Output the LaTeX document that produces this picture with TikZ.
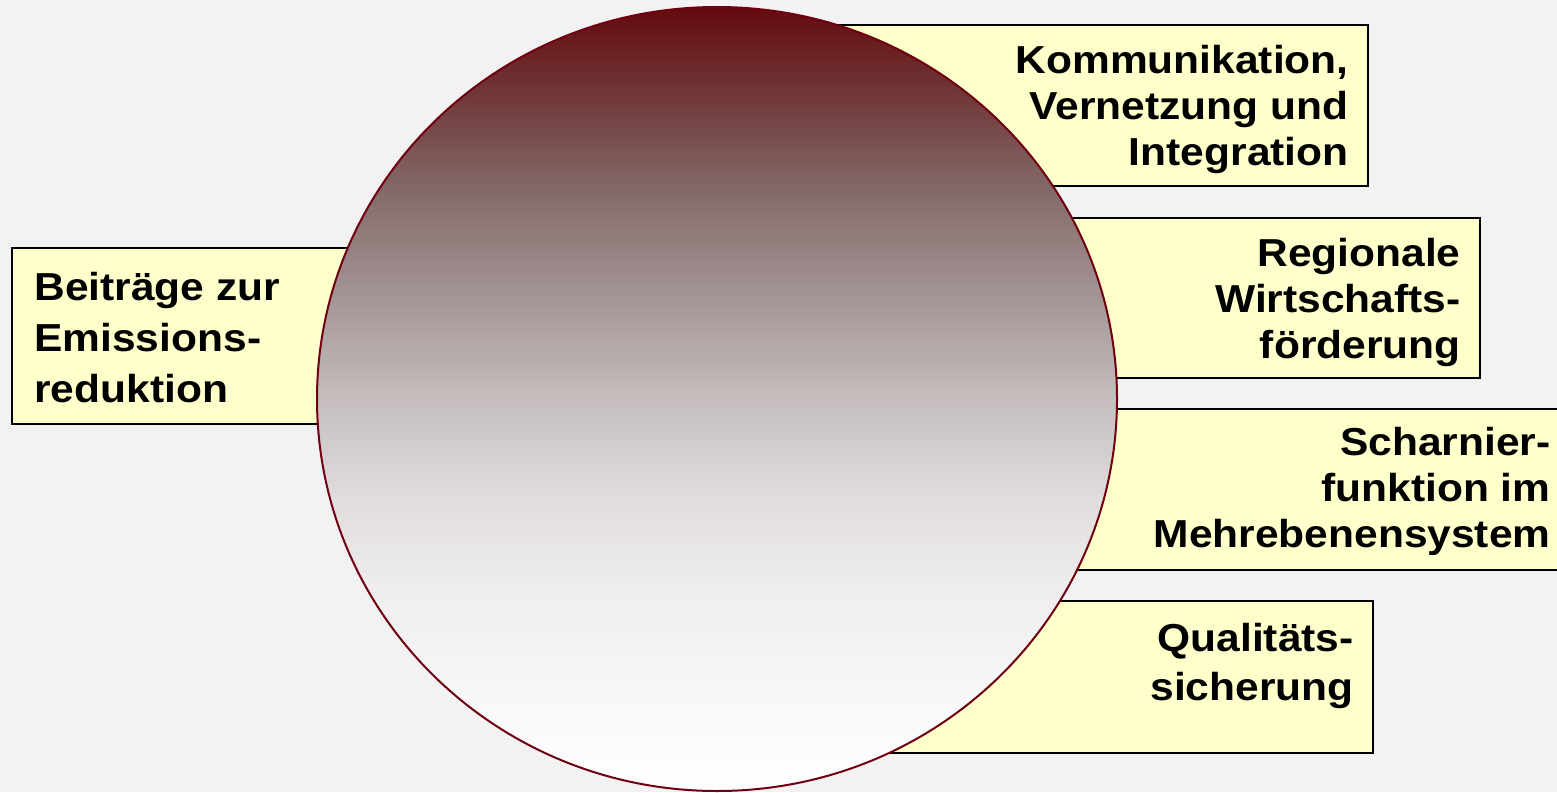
\documentclass[tikz,border=0pt]{standalone}
\usepackage{fontspec}
\setmainfont{Liberation Sans}[FakeStretch=1.09]
\usetikzlibrary{shapes.geometric}
\definecolor{bggray}{RGB}{242,242,242}
\definecolor{paleyellow}{RGB}{255,255,204}
\definecolor{darkwine}{RGB}{112,0,16}
\definecolor{shA}{RGB}{100,10,15}
\definecolor{shB}{RGB}{113,58,58}
\definecolor{shC}{RGB}{135,110,110}
\definecolor{shD}{RGB}{165,150,150}
\definecolor{shE}{RGB}{198,190,190}
\definecolor{shF}{RGB}{225,221,221}
\definecolor{shG}{RGB}{240,238,238}
\definecolor{shH}{RGB}{248,248,248}
\pgfdeclareverticalshading{wineshade}{100bp}{color(0bp)=(white); color(25bp)=(white);
 color(30.8bp)=(shH); color(37.2bp)=(shG); color(43.6bp)=(shF); color(49.9bp)=(shE);
 color(56.3bp)=(shD); color(62.7bp)=(shC); color(69.1bp)=(shB); color(75bp)=(shA); color(100bp)=(shA)}

\begin{document}
\begin{tikzpicture}[x=0.5pt,y=-0.5pt,
 box/.style={draw=black,line width=1pt,fill=paleyellow,inner sep=0pt},
 boxtext/.style={font=\fontsize{19.5}{23}\selectfont\bfseries,align=right,inner sep=0pt,anchor=east},
 lefttext/.style={font=\fontsize{19.5}{25.5}\selectfont\bfseries,align=left,inner sep=0pt,anchor=west}]
\fill[bggray] (0,0) rectangle (1557,792);
\useasboundingbox (0,0) rectangle (1557,792);
\node[box,minimum width=289pt,minimum height=80.5pt] (kommbox) at (1079,105.5) {};
\node[box,minimum width=340pt,minimum height=80pt] (regbox) at (1140,298) {};
\node[box,minimum width=390pt,minimum height=80.5pt] (scharbox) at (1190,489.5) {};
\node[box,minimum width=286.5pt,minimum height=76pt] (qualbox) at (1086.5,677) {};
\node[box,minimum width=254pt,minimum height=88pt] (emibox) at (266,336) {};
\node[ellipse,draw=darkwine,line width=1pt,shading=wineshade,minimum width=400pt,minimum height=392pt,inner sep=0pt] (kreis) at (717,399) {};
\node[boxtext] (komm) at ([xshift=-10pt,yshift=-2pt]kommbox.east) {Kommunikation,\\Vernetzung und\\Integration};
\node[boxtext] (reg) at ([xshift=-10pt,yshift=-2pt]regbox.east) {Regionale\\Wirtschafts-\\förderung};
\node[boxtext] (schar) at ([xshift=-15pt,yshift=-1pt]scharbox.east) {Scharnier-\\funktion im\\Mehrebenensystem};
\node[boxtext,font=\fontsize{19.5}{24.5}\selectfont\bfseries] (qual) at ([xshift=-10pt,yshift=5.5pt]qualbox.east) {Qualitäts-\\sicherung};
\node[lefttext] (emi) at ([xshift=11.5pt,yshift=-1pt]emibox.west) {Beiträge zur\\Emissions-\\reduktion};
\end{tikzpicture}
\end{document}
